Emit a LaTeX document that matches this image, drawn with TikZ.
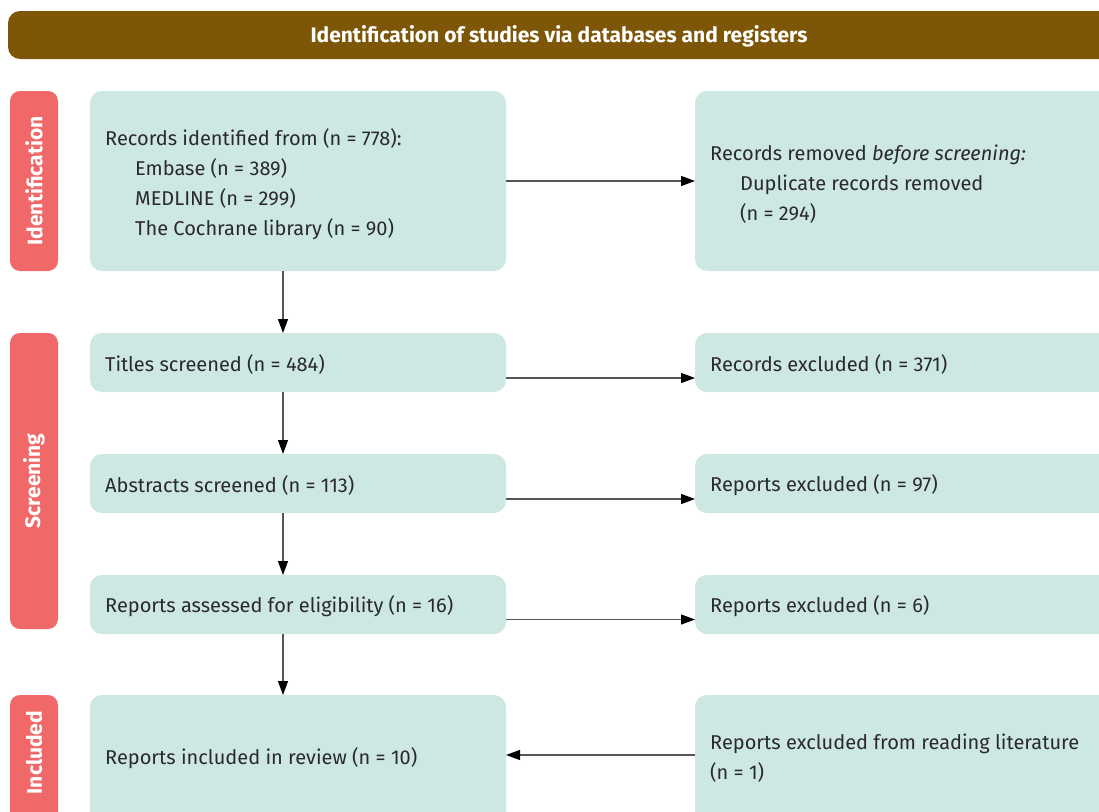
\documentclass[tikz,border=0pt]{standalone}
\usepackage{fontspec}
\setmainfont{Fira Sans}
\usetikzlibrary{arrows.meta,calc}
\definecolor{hdr}{HTML}{7E5608}
\definecolor{phase}{HTML}{F06868}
\definecolor{boxc}{HTML}{CDE7E3}
\definecolor{txt}{HTML}{2A2A2A}
\definecolor{linec}{HTML}{555555}
\tikzset{
  x=1pt,y=1pt,
  box/.style={fill=boxc, rounded corners=12pt, draw=none, inner sep=0pt, outer sep=0pt},
  boxtext/.style={anchor=west, inner sep=0pt, align=left, text=txt, font=\fontsize{20}{30}\selectfont},
  phasebox/.style={fill=phase, rounded corners=10pt, inner sep=0pt, outer sep=0pt},
  phasetext/.style={text=white, font=\bfseries\fontsize{21}{24}\selectfont, rotate=90},
  arr/.style={draw=linec, line width=1.2pt, -{Triangle[length=14pt,width=10pt,fill=black,color=black]}}
}
\begin{document}
\begin{tikzpicture}
\useasboundingbox (0,0) rectangle (1099,-811);
\clip (0,0) rectangle (1099,-811);
% header
\path[fill=hdr, rounded corners=12pt] (8,-11) rectangle (1130,-59);
\node[text=white, font=\bfseries\fontsize{21}{24}\selectfont] (hdr) at (559,-36) {Identification of studies via databases and registers};
% phase bars
\path[phasebox] (10,-91) rectangle (58,-271);
\node[phasetext] (pid) at (34,-181) {Identification};
\path[phasebox] (10,-333) rectangle (58,-629);
\node[phasetext] (psc) at (34,-481) {Screening};
\path[phasebox] (10,-695) rectangle (58,-830);
\node[phasetext] (pin) at (34,-752.5) {Included};
% left boxes
\node[box, minimum width=416pt, minimum height=180pt] (l1) at (298,-181) {};
\node[boxtext] (t1) at (105,-184) {Records identified from (n = 778):\\\hspace*{30pt}Embase (n = 389)\\\hspace*{30pt}MEDLINE (n = 299)\\\hspace*{30pt}The Cochrane library (n = 90)};
\node[box, minimum width=416pt, minimum height=59pt] (l2) at (298,-362.5) {};
\node[boxtext] (t2) at (105,-364) {Titles screened (n = 484)};
\node[box, minimum width=416pt, minimum height=59pt] (l3) at (298,-483.5) {};
\node[boxtext] (t3) at (105,-485) {Abstracts screened (n = 113)};
\node[box, minimum width=416pt, minimum height=59pt] (l4) at (298,-604.5) {};
\node[boxtext] (t4) at (105,-606) {Reports assessed for eligibility (n = 16)};
\node[box, minimum width=416pt, minimum height=150pt] (l5) at (298,-770) {};
\node[boxtext] (t5) at (105,-758) {Reports included in review (n = 10)};
% right boxes
\node[box, minimum width=430pt, minimum height=180pt] (r1) at (910,-181) {};
\node[boxtext] (u1) at (710,-184) {Records removed \textit{before screening:}\\\hspace*{30pt}Duplicate records removed\\\hspace*{30pt}(n = 294)};
\node[box, minimum width=430pt, minimum height=59pt] (r2) at (910,-362.5) {};
\node[boxtext] (u2) at (710,-364) {Records excluded (n = 371)};
\node[box, minimum width=430pt, minimum height=59pt] (r3) at (910,-483.5) {};
\node[boxtext] (u3) at (710,-485) {Reports excluded (n = 97)};
\node[box, minimum width=430pt, minimum height=59pt] (r4) at (910,-604.5) {};
\node[boxtext] (u4) at (710,-606) {Reports excluded (n = 6)};
\node[box, minimum width=430pt, minimum height=150pt] (r5) at (910,-770) {};
\node[boxtext] (u5) at (710,-758) {Reports excluded from reading literature\\(n = 1)};
% vertical arrows
\draw[arr] ([xshift=-15pt]l1.south) -- ([xshift=-15pt]l2.north);
\draw[arr] ([xshift=-15pt]l2.south) -- ([xshift=-15pt]l3.north);
\draw[arr] ([xshift=-15pt]l3.south) -- ([xshift=-15pt]l4.north);
\draw[arr] ([xshift=-15pt]l4.south) -- ([xshift=-15pt]l5.north);
% horizontal arrows
\draw[arr] (l1.east) -- (l1.east -| r1.west);
\draw[arr] ([yshift=-15.5pt]l2.east) -- ([yshift=-15.5pt]l2.east -| r2.west);
\draw[arr] ([yshift=-15.5pt]l3.east) -- ([yshift=-15.5pt]l3.east -| r3.west);
\draw[arr] ([yshift=-15pt]l4.east) -- ([yshift=-15pt]l4.east -| r4.west);
\coordinate (r5w) at (r5.west |- 0,-755);
\draw[arr] (r5w) -- (r5w -| l5.east);
\end{tikzpicture}
\end{document}
